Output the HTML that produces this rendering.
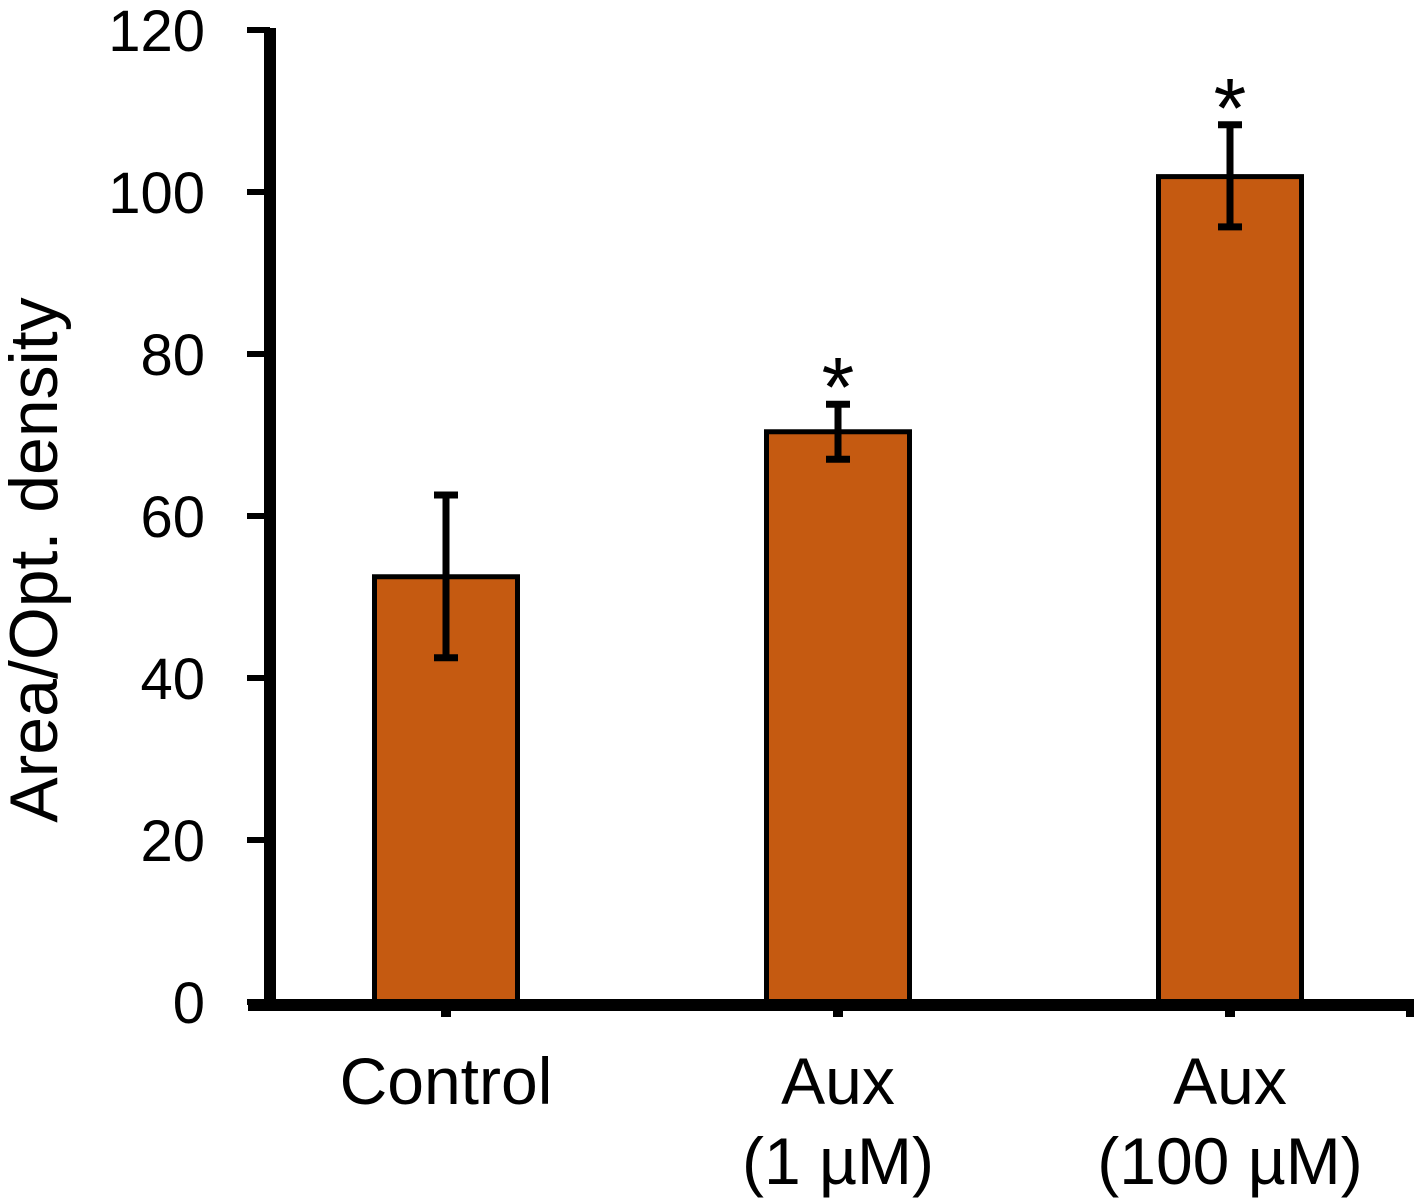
<!DOCTYPE html>
<html><head><meta charset="utf-8"><style>
body{margin:0;background:#fff;}
svg{display:block;font-family:"Liberation Sans",sans-serif;}
</style></head><body>
<svg id="chart" width="1417" height="1198" viewBox="0 0 1417 1198"></svg>
<script>
const categories = ["Control", "Aux|(1 µM)", "Aux|(100 µM)"];
const values = [52.5, 70.4, 101.9];
const errUpper = [62.6, 73.8, 108.3];
const errLower = [42.5, 67.0, 95.7];
const significant = [false, true, true];
const yTicks = [0, 20, 40, 60, 80, 100, 120];

const svg = document.getElementById('chart');
const NS = 'http://www.w3.org/2000/svg';
const y0 = 1002, yTop = 30, yMax = 120;
const xL = 250;
function yScale(v){ return y0 - (v / yMax) * (y0 - yTop); }
const band = 392;
function xCenter(i){ return xL + (i + 0.5) * band; }
function el(tag, attrs){ const e = document.createElementNS(NS, tag); for (const k in attrs) e.setAttribute(k, attrs[k]); svg.appendChild(e); return e; }

categories.forEach((c, i) => {
  const cx = xCenter(i), w = 143;
  const b = el('rect', {x: cx - w/2, y: yScale(values[i]), width: w, height: y0 - yScale(values[i]), fill: '#C55A11', stroke: '#000', 'stroke-width': 5});
  
  
  const e = el('path', {d: `M${cx},${yScale(errUpper[i])}V${yScale(errLower[i])}M${cx-12},${yScale(errUpper[i])}H${cx+12}M${cx-12},${yScale(errLower[i])}H${cx+12}`, stroke: '#000', 'stroke-width': 7, fill: 'none'});
  
  
  if (significant[i]) {
    const s = el('text', {x: cx, y: yScale(errUpper[i]) + 12, 'font-size': 84, 'text-anchor': 'middle'});
    s.textContent = '*';
    
    
  }
  const parts = c.split('|');
  parts.forEach((p, j) => {
    const t = el('text', {x: cx, y: 1104 + j * 80, 'font-size': 66, 'text-anchor': 'middle'});
    t.textContent = p;
    
    
  });
  const tk = el('line', {x1: cx, x2: cx, y1: y0, y2: 1017, stroke: '#000', 'stroke-width': 10});
  
  
});
const tkEnd = el('line', {x1: 1410, x2: 1410, y1: y0, y2: 1017, stroke: '#000', 'stroke-width': 8});



yTicks.forEach(v => {
  const y = yScale(v);
  const l = el('line', {x1: 247, x2: 270, y1: y, y2: y, stroke: '#000', 'stroke-width': 6});
  
  
  const t = el('text', {x: 205, y: y + 21, 'font-size': 58, 'text-anchor': 'end'});
  t.textContent = v;
  
  
});

const ya = el('line', {x1: 270, x2: 270, y1: 28, y2: 1010, stroke: '#000', 'stroke-width': 12});


const xa = el('line', {x1: 248, x2: 1414, y1: 1005, y2: 1005, stroke: '#000', 'stroke-width': 12});



const yt = el('text', {x: 0, y: 0, 'font-size': 68, 'text-anchor': 'middle', transform: 'translate(57,560) rotate(-90)'});
yt.textContent = 'Area/Opt. density';


</script>
</body></html>
